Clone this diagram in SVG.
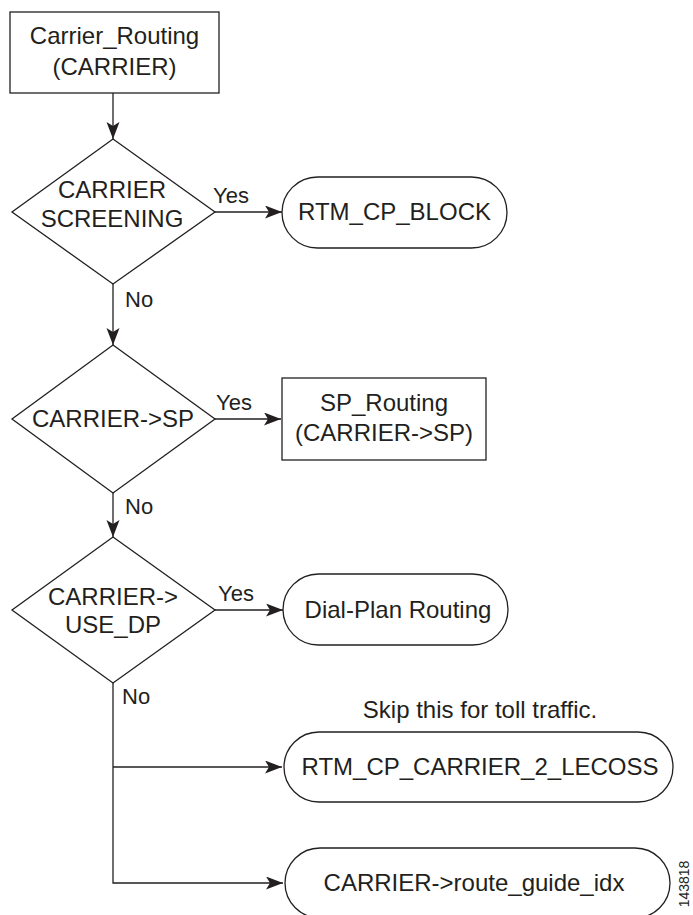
<svg xmlns="http://www.w3.org/2000/svg" width="693" height="915" viewBox="0 0 693 915">
<style>
  .shape { fill: #ffffff; stroke: #231f20; stroke-width: 1.3; }
  .conn { fill: none; stroke: #231f20; stroke-width: 1.3; }
  text { font-family: "Liberation Sans", Arial, sans-serif; fill: #231f20; }
  .lbl { font-size: 24px; text-anchor: middle; }
  .yn { font-size: 22px; }
  .fig { font-size: 14px; text-anchor: middle; }
</style>
<defs>
  <marker id="arr" markerUnits="userSpaceOnUse" markerWidth="18" markerHeight="14" refX="17" refY="6.5" orient="auto">
    <path d="M0,0 L17,6.5 L0,13 L4,6.5 Z" fill="#231f20"/>
  </marker>
</defs>
<rect width="693" height="915" fill="#ffffff"/>

<g id="connectors">
  <line class="conn" x1="113" y1="93" x2="113" y2="139" marker-end="url(#arr)"/>
  <line class="conn" x1="215" y1="212" x2="282" y2="212" marker-end="url(#arr)"/>
  <line class="conn" x1="113" y1="284" x2="113" y2="345" marker-end="url(#arr)"/>
  <line class="conn" x1="215" y1="419" x2="281" y2="419" marker-end="url(#arr)"/>
  <line class="conn" x1="113" y1="493" x2="113" y2="537" marker-end="url(#arr)"/>
  <line class="conn" x1="215" y1="610" x2="283" y2="610" marker-end="url(#arr)"/>
  <polyline class="conn" points="113,683 113,883 283,883" marker-end="url(#arr)"/>
  <line class="conn" x1="113" y1="767" x2="282" y2="767" marker-end="url(#arr)"/>
  <text class="yn" x="213" y="203">Yes</text>
  <text class="yn" x="125" y="307">No</text>
  <text class="yn" x="216" y="410">Yes</text>
  <text class="yn" x="125" y="514">No</text>
  <text class="yn" x="218" y="601">Yes</text>
  <text class="yn" x="122" y="704">No</text>
</g>

<g id="carrier_routing">
  <rect class="shape" x="10" y="12" width="209" height="81"/>
  <text class="lbl" x="114.5" y="44">Carrier_Routing</text>
  <text class="lbl" x="114.5" y="75">(CARRIER)</text>
</g>

<g id="carrier_screening">
  <polygon class="shape" points="113,139 215,212 113,284 12,212"/>
  <text class="lbl" x="112" y="198">CARRIER</text>
  <text class="lbl" x="112" y="227">SCREENING</text>
</g>

<g id="rtm_cp_block">
  <rect class="shape" x="282" y="177" width="225" height="71" rx="35.5" ry="35.5"/>
  <text class="lbl" x="394.5" y="220">RTM_CP_BLOCK</text>
</g>

<g id="carrier_sp">
  <polygon class="shape" points="113,345 215,419 113,493 12,419"/>
  <text class="lbl" x="113" y="427">CARRIER-&gt;SP</text>
</g>

<g id="sp_routing">
  <rect class="shape" x="282" y="378" width="204" height="82"/>
  <text class="lbl" x="384" y="411">SP_Routing</text>
  <text class="lbl" x="384" y="441">(CARRIER-&gt;SP)</text>
</g>

<g id="carrier_use_dp">
  <polygon class="shape" points="113,537 215,610 113,683 12,610"/>
  <text class="lbl" x="113" y="605">CARRIER-&gt;</text>
  <text class="lbl" x="113" y="633">USE_DP</text>
</g>

<g id="dial_plan_routing">
  <rect class="shape" x="283" y="574" width="225" height="71" rx="35.5" ry="35.5"/>
  <text class="lbl" x="398" y="618">Dial-Plan Routing</text>
</g>

<g id="rtm_cp_carrier_2_lecoss">
  <text class="lbl" x="480" y="718">Skip this for toll traffic.</text>
  <rect class="shape" x="284" y="732" width="389" height="70" rx="35" ry="35"/>
  <text class="lbl" x="480" y="775">RTM_CP_CARRIER_2_LECOSS</text>
</g>

<g id="route_guide_idx">
  <rect class="shape" x="285" y="848" width="385" height="70" rx="35" ry="35"/>
  <text class="lbl" x="474" y="891">CARRIER-&gt;route_guide_idx</text>
</g>

<text class="fig" transform="translate(689,884) rotate(-90)">143818</text>
</svg>
